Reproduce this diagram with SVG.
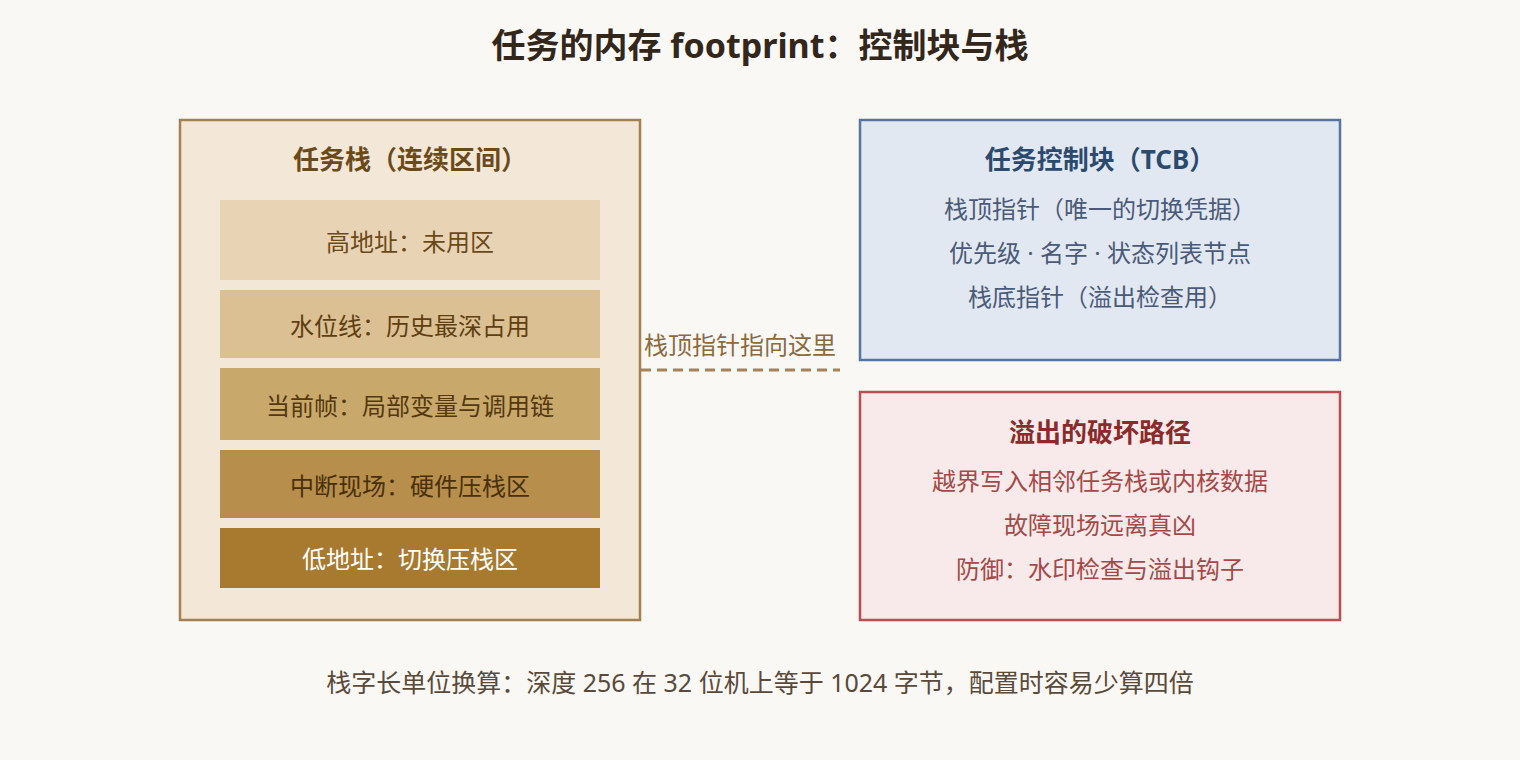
<svg xmlns="http://www.w3.org/2000/svg" width="1520" height="760" viewBox="0 0 1520 760">
<style>
text{font-family:"Noto Sans","Noto Sans CJK SC",sans-serif;text-anchor:middle;dominant-baseline:central}
.title{font-size:34px;font-weight:bold;fill:#33261a}
.h{font-size:26px;font-weight:bold}
.b{font-size:24px}
.band{stroke:none}
</style>
<rect width="1520" height="760" fill="#f9f8f4"/>
<text class="title" x="760" y="45">任务的内存 footprint：控制块与栈</text>
<g id="stack">
<rect x="180" y="120" width="460" height="500" fill="#f3e7d8" stroke="#a3804f" stroke-width="2.5"/>
<text class="h" x="410" y="159" fill="#6b4a1a">任务栈（连续区间）</text>
<rect class="band" x="220" y="200" width="380" height="80" fill="#e8d4b5"/>
<text class="b" x="410" y="241" fill="#6b4a1a">高地址：未用区</text>
<rect class="band" x="220" y="290" width="380" height="68" fill="#dbc093"/>
<text class="b" x="410" y="325" fill="#5f3f12">水位线：历史最深占用</text>
<rect class="band" x="220" y="368" width="380" height="72" fill="#c8a86b"/>
<text class="b" x="410" y="405" fill="#55380e">当前帧：局部变量与调用链</text>
<rect class="band" x="220" y="450" width="380" height="68" fill="#b78e4b"/>
<text class="b" x="410" y="485" fill="#4a300a">中断现场：硬件压栈区</text>
<rect class="band" x="220" y="528" width="380" height="60" fill="#a87a2f"/>
<text class="b" x="410" y="558" fill="#ffffff">低地址：切换压栈区</text>
</g>
<g id="connectors">
<line x1="641" y1="370" x2="840" y2="370" stroke="#a58458" stroke-width="3" stroke-dasharray="10 6"/>
<text class="b" x="740" y="344" fill="#8b6a3e">栈顶指针指向这里</text>
</g>
<g id="tcb">
<rect x="860" y="120" width="480" height="240" fill="#e2e8f2" stroke="#5675a3" stroke-width="2.5"/>
<text class="h" x="1100" y="159" fill="#2c4a6e">任务控制块（TCB）</text>
<text class="b" x="1100" y="208" fill="#4a5a78">栈顶指针（唯一的切换凭据）</text>
<text class="b" x="1100" y="252" fill="#4a5a78">优先级 · 名字 · 状态列表节点</text>
<text class="b" x="1100" y="296" fill="#4a5a78">栈底指针（溢出检查用）</text>
</g>
<g id="overflow">
<rect x="860" y="392" width="480" height="228" fill="#f8eaea" stroke="#bc4d50" stroke-width="2.5"/>
<text class="h" x="1100" y="432" fill="#8b2a2a">溢出的破坏路径</text>
<text class="b" x="1100" y="480" fill="#a34a48">越界写入相邻任务栈或内核数据</text>
<text class="b" x="1100" y="524" fill="#a34a48">故障现场远离真凶</text>
<text class="b" x="1100" y="568" fill="#a34a48">防御：水印检查与溢出钩子</text>
</g>
<text x="760" y="682" font-size="25" fill="#5a4a3a">栈字长单位换算：深度 256 在 32 位机上等于 1024 字节，配置时容易少算四倍</text>
</svg>
